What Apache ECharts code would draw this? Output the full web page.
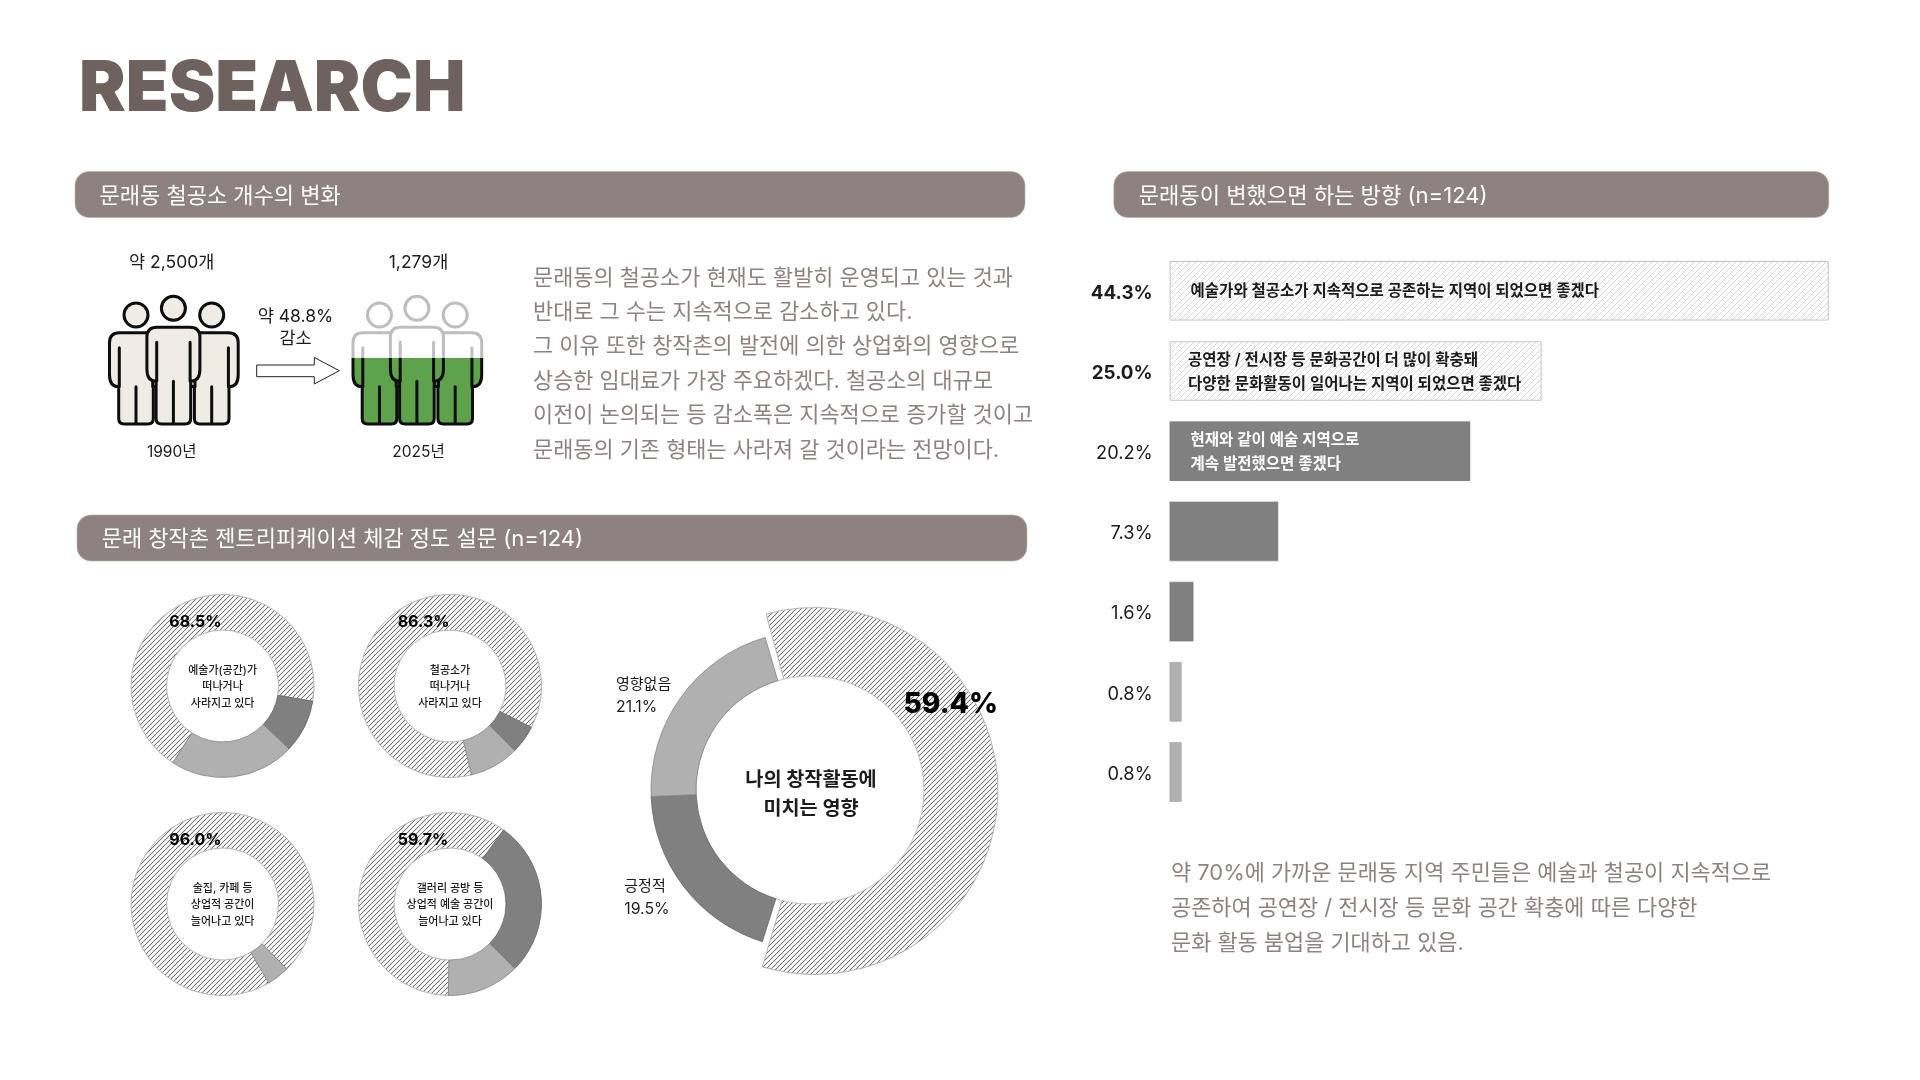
<!DOCTYPE html>
<html>
<head>
<meta charset="utf-8">
<style>html,body{margin:0;padding:0;background:#fff}#c{width:1920px;height:1080px}</style>
<script src="https://cdn.jsdelivr.net/npm/echarts@6/dist/echarts.min.js"></script>
</head>
<body>
<div id="c"></div>
<script>
// ---------- data ----------
const pageTitle = 'RESEARCH';
const sectionTitles = ['문래동 철공소 개수의 변화', '문래 창작촌 젠트리피케이션 체감 정도 설문 (n=124)', '문래동이 변했으면 하는 방향 (n=124)'];
const shopCount1990 = 2500;
const shopCount2025 = 1279;
const countLabels = ['약 2,500개', '1,279개'];
const yearLabels = ['1990년', '2025년'];
const changeLabel = ['약 48.8%', '감소'];
const leftParagraph = [
  '문래동의 철공소가 현재도 활발히 운영되고 있는 것과',
  '반대로 그 수는 지속적으로 감소하고 있다.',
  '그 이유 또한 창작촌의 발전에 의한 상업화의 영향으로',
  '상승한 임대료가 가장 주요하겠다. 철공소의 대규모',
  '이전이 논의되는 등 감소폭은 지속적으로 증가할 것이고',
  '문래동의 기존 형태는 사라져 갈 것이라는 전망이다.'
];
const rightParagraph = [
  '약 70%에 가까운 문래동 지역 주민들은 예술과 철공이 지속적으로',
  '공존하여 공연장 / 전시장 등 문화 공간 확충에 따른 다양한',
  '문화 활동 붐업을 기대하고 있음.'
];
const donutCaptions = ['예술가(공간)가\n떠나거나\n사라지고 있다', '철공소가\n떠나거나\n사라지고 있다', '술집, 카페 등\n상업적 공간이\n늘어나고 있다', '갤러리 공방 등\n상업적 예술 공간이\n늘어나고 있다'];
const donutAgree = [68.5, 86.3, 96.0, 59.7];
const donutNegative = [9.4, 5.0, 0, 27.5];
const donutNeutral = [22.1, 8.7, 4.0, 12.8];
const impactCaption = '나의 창작활동에\n미치는 영향';
const impactNames = ['부정적', '긍정적', '영향없음'];
const impactValues = [59.4, 19.5, 21.1];
const directionTexts = [
  '예술가와 철공소가 지속적으로 공존하는 지역이 되었으면 좋겠다',
  '공연장 / 전시장 등 문화공간이 더 많이 확충돼\n다양한 문화활동이 일어나는 지역이 되었으면 좋겠다',
  '현재와 같이 예술 지역으로\n계속 발전했으면 좋겠다',
  '', '', '', ''
];
const directionValues = [44.3, 25.0, 20.2, 7.3, 1.6, 0.8, 0.8];
const directionTicks = ['44.3%', '25.0%', '20.2%', '7.3%', '1.6%', '0.8%', '0.8%'];

// ---------- styles ----------
const FF = 'Inter, "Noto Sans CJK KR", sans-serif';
const HEAD = '#8E8280', BODY = '#8E8280', TITLE = '#6E625E', INK = '#1c1c1c';
const DARK = '#808080', MID = '#B0B0B0';
function hatch(period, width, color) {
  const c = document.createElement('canvas');
  c.width = c.height = period * 4;
  const g = c.getContext('2d');
  g.fillStyle = '#fff'; g.fillRect(0, 0, c.width, c.height);
  g.strokeStyle = color; g.lineWidth = width * 4; g.lineCap = 'square';
  const p = c.width;
  [[0, p, p, 0], [-p / 2, p / 2, p / 2, -p / 2], [p / 2, p * 1.5, p * 1.5, p / 2]].forEach(l => {
    g.beginPath(); g.moveTo(l[0], l[1]); g.lineTo(l[2], l[3]); g.stroke();
  });
  return { image: c, repeat: 'repeat', scaleX: 0.25, scaleY: 0.25 };
}
const donutHatch = hatch(5, 1.15, '#787878');
const barHatch = hatch(6, 0.9, '#d8d8d8');

const smallCenters = [[222.6, 686], [450, 686], [222.6, 904], [450, 904]];
const smallStarts = [213, 166.3, 149.7, 181];

function smallDonut(i) {
  const data = [
    { name: 'a', value: donutAgree[i],
      itemStyle: { color: donutHatch, borderColor: '#b4b4b4', borderWidth: 1 },
      label: { show: true, position: 'center', offset: [0, 1], formatter: donutCaptions[i], fontFamily: FF, fontSize: 11, fontWeight: 500, lineHeight: 16.5, color: INK } }
  ];
  if (donutNegative[i] > 0) data.push({ name: 'b', value: donutNegative[i], itemStyle: { color: DARK, borderColor: '#666', borderWidth: 0.8 } });
  if (donutNeutral[i] > 0) data.push({ name: 'c', value: donutNeutral[i], itemStyle: { color: MID, borderColor: '#858585', borderWidth: 0.8 } });
  return {
    type: 'pie', center: smallCenters[i], radius: [56, 91.5], startAngle: 90 - smallStarts[i],
    clockwise: true, silent: true, animation: false, label: { show: false }, labelLine: { show: false }, data
  };
}

const bigCenter = [810, 790];
const noFill = { color: 'transparent', borderWidth: 0 };
const bigOuter = {
  type: 'pie', center: [814.5, 791], radius: [95, 183.5], startAngle: 90 - 343.7, padAngle: 2, silent: true, animation: false,
  label: { show: false }, labelLine: { show: false },
  data: [
    { name: impactNames[0], value: impactValues[0], itemStyle: { color: donutHatch, borderColor: '#b4b4b4', borderWidth: 1 } },
    { name: 'rest', value: impactValues[1] + impactValues[2], itemStyle: noFill }
  ]
};
const bigHole = {
  type: 'pie', center: bigCenter, radius: [0, 114], silent: true, animation: false, labelLine: { show: false },
  data: [{ name: 'hole', value: 1, itemStyle: { color: '#fff', borderColor: '#b4b4b4', borderWidth: 0.8 },
    label: { show: true, position: 'center', offset: [1, 4.5], formatter: impactCaption, fontFamily: FF, fontSize: 19.7, fontWeight: 700, lineHeight: 29, color: INK } }]
};
const bigInner = {
  type: 'pie', center: bigCenter, radius: [114, 159], startAngle: 90 - 343.6, silent: true, animation: false,
  label: { show: false }, labelLine: { show: false },
  data: [
    { name: 'main', value: impactValues[0], itemStyle: noFill },
    { name: impactNames[1], value: impactValues[1], itemStyle: { color: DARK, borderColor: '#666', borderWidth: 0.8 } },
    { name: impactNames[2], value: impactValues[2], itemStyle: { color: MID, borderColor: '#858585', borderWidth: 0.8 } }
  ]
};

// ---------- decoration ----------
function t(text, x, y, size, weight, fill, align) {
  return { type: 'text', z: 100, style: { text, x, y, fill, fontSize: size, fontWeight: weight, fontFamily: FF, textAlign: align || 'left', textVerticalAlign: 'middle' } };
}
function head(x, y, w, h) {
  return { type: 'rect', z: 5, shape: { x, y, width: w, height: h, r: 14 }, style: { fill: HEAD, stroke: '#b8aeaa', lineWidth: 0.6 } };
}
function person(cx, headY, top, bottom) {
  const r = 12, hw = 26.5, cr = 10, leg = 17.3, fc = 5.5, armEnd = top + 54, inner = 16.7;
  return [
    `M${cx - r} ${headY}A${r} ${r} 0 1 1 ${cx + r} ${headY}A${r} ${r} 0 1 1 ${cx - r} ${headY}Z`,
    `M${cx - hw} ${top + cr}Q${cx - hw} ${top} ${cx - hw + cr} ${top}L${cx + hw - cr} ${top}Q${cx + hw} ${top} ${cx + hw} ${top + cr}`,
    `L${cx + hw} ${armEnd - 12}Q${cx + hw} ${armEnd} ${cx + leg} ${armEnd}L${cx + leg} ${bottom - fc}Q${cx + leg} ${bottom} ${cx + leg - fc} ${bottom}`,
    `L${cx - leg + fc} ${bottom}Q${cx - leg} ${bottom} ${cx - leg} ${bottom - fc}L${cx - leg} ${armEnd}Q${cx - hw} ${armEnd} ${cx - hw} ${armEnd - 12}Z`,
    `M${cx - inner} ${top + 15}L${cx - inner} ${armEnd}M${cx + inner} ${top + 15}L${cx + inner} ${armEnd}M${cx} ${armEnd}L${cx} ${bottom}`
  ].join('');
}
const figTop = 295, figBottom = 425;
const level = (figBottom - (figBottom - figTop) * shopCount2025 / shopCount1990 - figTop) / (figBottom - figTop);
const cut = (a, b) => ({ type: 'linear', global: true, x: 0, y: figTop, x2: 0, y2: figBottom,
  colorStops: [{ offset: 0, color: a }, { offset: level, color: a }, { offset: level, color: b }, { offset: 1, color: b }] });
const figureSlots = [[136, 315, 332.7, 424], [211.7, 315, 332.7, 424], [173.4, 308.3, 327.3, 424]];
function peopleItem(dx, fill, stroke) {
  return {
    type: 'group',
    children: figureSlots.map(p => ({
      type: 'path',
      shape: { pathData: person(p[0] + dx, p[1], p[2], p[3]) },
      style: { fill, stroke, lineWidth: 3, lineCap: 'round', lineJoin: 'round' }
    }))
  };
}
const peopleSeries = {
  type: 'custom', coordinateSystem: 'none', silent: true, z: 10, clip: false,
  data: [shopCount1990, shopCount2025],
  renderItem: (params) => params.dataIndex === 0
    ? peopleItem(0, '#EFEBE5', '#0d0d0d')
    : peopleItem(243.5, cut('#ffffff', '#5EA34B'), cut('#BEBEBE', '#0d0d0d'))
};

const graphic = [
  t(pageTitle, 79, 89.5, 70, 900, TITLE),
  head(75, 171.5, 950, 46), head(77, 515, 950, 46), head(1113.8, 171.5, 715, 46),
  t(sectionTitles[0], 99.5, 196, 22, 400, '#fff'),
  t(sectionTitles[1], 101.7, 539.5, 22, 400, '#fff'),
  t(sectionTitles[2], 1138.7, 196, 22.1, 400, '#fff'),
  t(countLabels[0], 171.7, 262.5, 17.5, 400, INK, 'center'),
  t(countLabels[1], 418.5, 262.5, 17.5, 400, INK, 'center'),
  t(yearLabels[0], 171.7, 452, 15.5, 400, INK, 'center'),
  t(yearLabels[1], 418.5, 452, 15.5, 400, INK, 'center'),
  t(changeLabel[0], 295.5, 317, 17.5, 400, INK, 'center'),
  t(changeLabel[1], 295.5, 339, 17.5, 400, INK, 'center'),
  { type: 'polygon', z: 10, shape: { points: [[256.7, 365], [314.3, 365], [314.3, 357.5], [339.3, 370.7], [314.3, 384], [314.3, 376.7], [256.7, 376.7]] },
    style: { fill: '#fff', stroke: '#222', lineWidth: 1 } },
  ...leftParagraph.map((s, i) => t(s, 533, 278 + i * 34.45, 21.9, 400, BODY)),
  ...rightParagraph.map((s, i) => t(s, 1171, 873.5 + i * 35, 21.9, 400, BODY)),
  t(donutAgree[0].toFixed(1) + '%', 169.3, 622, 16, 700, '#000'),
  t(donutAgree[1].toFixed(1) + '%', 397.7, 622, 16, 700, '#000'),
  t(donutAgree[2].toFixed(1) + '%', 169.3, 840, 16, 700, '#000'),
  t(donutAgree[3].toFixed(1) + '%', 397.7, 840, 16, 700, '#000'),
  t(impactValues[0].toFixed(1) + '%', 903.5, 705, 28.2, 800, '#000'),
  t(impactNames[2], 616, 684.5, 15, 400, INK),
  t(impactValues[2].toFixed(1) + '%', 616, 707.5, 15.8, 400, INK),
  t(impactNames[1], 624.3, 886, 15, 400, INK),
  t(impactValues[1].toFixed(1) + '%', 624.3, 909.5, 15.8, 400, INK)
];

// ---------- chart ----------
const barStyles = [
  { color: barHatch, borderColor: '#c4c4c4', borderWidth: 1 },
  { color: barHatch, borderColor: '#c4c4c4', borderWidth: 1 },
  { color: DARK, borderColor: '#6e6e6e', borderWidth: 0.6 },
  { color: DARK, borderColor: '#7a7a7a', borderWidth: 0.6 },
  { color: DARK, borderColor: '#6e6e6e', borderWidth: 0.6 },
  { color: MID, borderColor: '#9c9c9c', borderWidth: 0.6 },
  { color: MID, borderColor: '#9c9c9c', borderWidth: 0.6 }
];
const chart = echarts.init(document.getElementById('c'), null, { renderer: 'canvas' });
chart.setOption({
  animation: false,
  backgroundColor: '#fff',
  grid: { left: 1169.6, top: 250.7, width: 669.6, height: 561.4, containLabel: false },
  xAxis: { type: 'value', min: 0, max: 45, show: false },
  yAxis: {
    type: 'category', inverse: true, data: directionTicks,
    axisLine: { show: false }, axisTick: { show: false },
    axisLabel: {
      margin: 17, padding: [4.5, 0, 0, 0], fontFamily: FF, fontSize: 18.3, color: INK,
      formatter: (v, i) => i < 2 ? `{b|${v}}` : v,
      rich: { b: { fontFamily: FF, fontSize: 18.8, fontWeight: 700, color: INK } }
    }
  },
  series: [
    {
      type: 'bar', barWidth: 59.5, silent: true,
      data: directionValues.map((v, i) => ({
        value: v, itemStyle: barStyles[i],
        label: { show: !!directionTexts[i], position: 'insideLeft', distance: i === 1 ? 18.5 : 21, offset: [0, 1], formatter: directionTexts[i],
          fontFamily: FF, fontSize: 15.5, fontWeight: 600, lineHeight: 24, color: i === 2 ? '#fff' : INK }
      }))
    },
    smallDonut(0), smallDonut(1), smallDonut(2), smallDonut(3),
    bigOuter, bigHole, bigInner, peopleSeries
  ],
  graphic
});
</script>
</body>
</html>
